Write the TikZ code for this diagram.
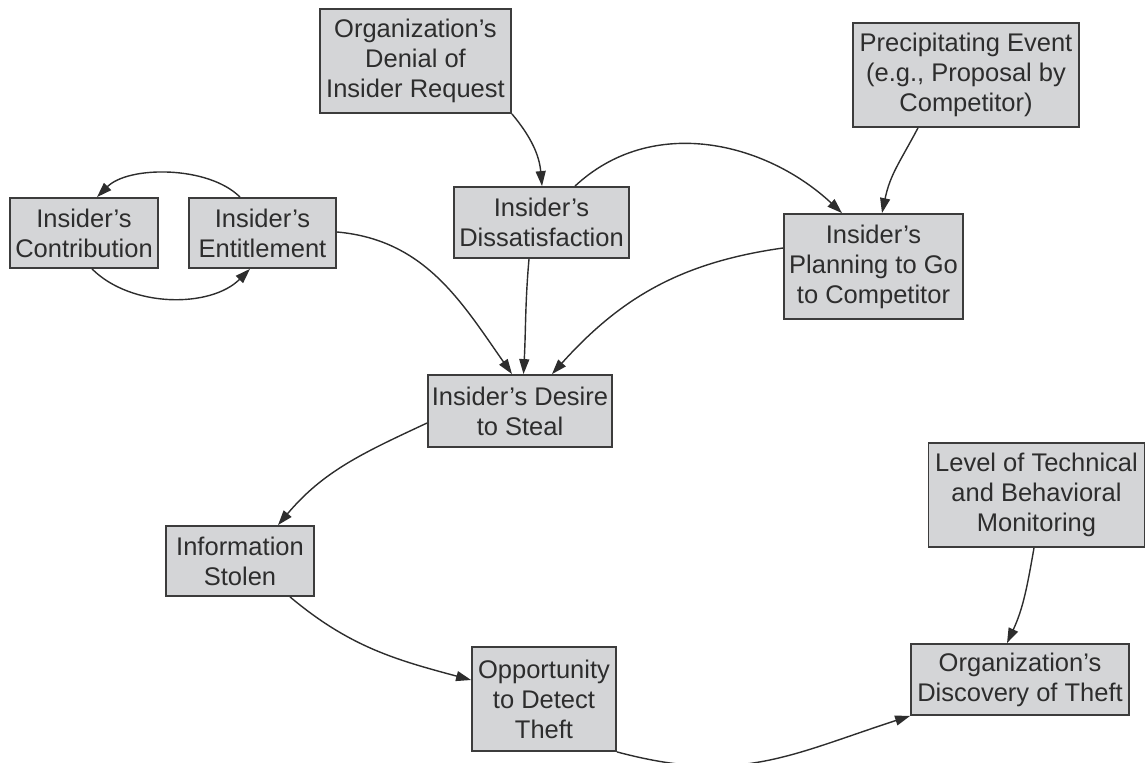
\documentclass[tikz,border=0pt]{standalone}
\usepackage{fontspec}
\setmainfont{Liberation Sans}
\usetikzlibrary{arrows.meta}
\definecolor{boxfill}{RGB}{212,213,215}
\definecolor{boxline}{RGB}{60,60,60}
\definecolor{inkgray}{RGB}{45,45,45}
\begin{document}
\begin{tikzpicture}[x=1pt,y=1pt,
  factor/.style={draw=boxline, line width=1.8pt, fill=boxfill, text=inkgray,
    inner sep=0pt, align=center, font=\fontsize{25.5}{30}\selectfont},
  link/.style={draw=inkgray, line width=1.4pt, -{Triangle[length=15pt,width=10pt]}}]
\useasboundingbox (0,0) rectangle (1147,762);

% factors of the insider theft model
\node[factor, minimum width=148pt, minimum height=70pt]  (contr)  at (84,529)     {Insider’s\\Contribution};
\node[factor, minimum width=147pt, minimum height=70pt]  (entit)  at (262.5,529)  {Insider’s\\Entitlement};
\node[factor, minimum width=191pt, minimum height=104pt] (denial) at (415.5,701)  {Organization’s\\Denial of\\Insider Request};
\node[factor, minimum width=175pt, minimum height=71pt]  (dissat) at (541.5,539.5){Insider’s\\Dissatisfaction};
\node[factor, minimum width=226pt, minimum height=104pt] (precip) at (966,687)    {Precipitating Event\\(e.g., Proposal by\\Competitor)};
\node[factor, minimum width=179pt, minimum height=105pt] (plan)   at (873.5,495.5){Insider’s\\Planning to Go\\to Competitor};
\node[factor, minimum width=184pt, minimum height=72pt]  (desire) at (520,351)    {Insider’s Desire\\to Steal};
\node[factor, minimum width=148pt, minimum height=70pt]  (info)   at (240,201)    {Information\\Stolen};
\node[factor, minimum width=216pt, minimum height=104pt] (level)  at (1036.5,267) {Level of Technical\\and Behavioral\\Monitoring};
\node[factor, minimum width=218pt, minimum height=71pt]  (disc)   at (1020,82.5)  {Organization’s\\Discovery of Theft};
\node[factor, minimum width=144pt, minimum height=104pt] (opp)    at (544,63)     {Opportunity\\to Detect\\Theft};

% causal links
\draw[link] ([xshift=-22.5pt]entit.north) to[out=135,in=45,looseness=0.8] ([xshift=13pt]contr.north);
\draw[link] ([xshift=8pt]contr.south) to[out=-45,in=-135,looseness=0.9] ([xshift=-12.5pt]entit.south);
\draw[link] ([yshift=1pt]entit.east) to[out=-5,in=125] ([xshift=-8pt]desire.north);
\draw[link] (denial.south east) to[out=-50,in=95] ([xshift=0.5pt]dissat.north);
\draw[link] ([xshift=33.5pt]dissat.north) to[out=43,in=137] ([xshift=-31.5pt]plan.north);
\draw[link] ([xshift=-48pt]precip.south) to[out=-118,in=78,looseness=1.1] ([xshift=8.5pt]plan.north);
\draw[link] ([xshift=-12.5pt]dissat.south) to[out=-95,in=87] ([xshift=3.5pt]desire.north);
\draw[link] ([yshift=18.5pt]plan.west) to[out=188,in=48] ([xshift=32pt]desire.north);
\draw[link] ([yshift=-12pt]desire.west) to[out=205,in=50] ([xshift=38pt]info.north);
\draw[link] ([xshift=50pt]info.south) to[out=-40,in=165] ([yshift=19pt]opp.west);
\draw[link] (opp.south east) to[out=-15,in=198,looseness=1.1] (disc.south west);
\draw[link] ([xshift=-2.5pt]level.south) to[out=-100,in=65] ([xshift=-13pt]disc.north);
\end{tikzpicture}
\end{document}
